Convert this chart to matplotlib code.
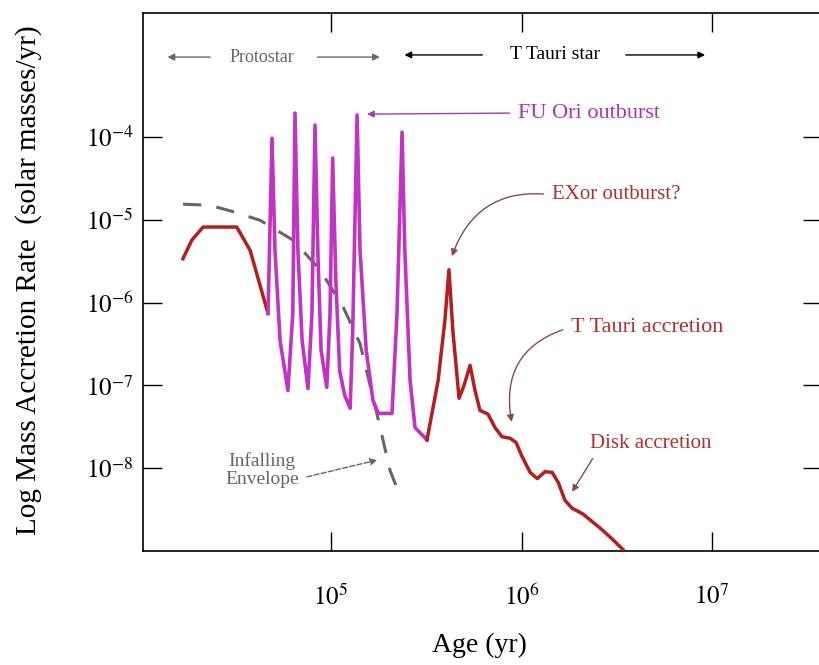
import numpy as np
import matplotlib
matplotlib.use('Agg')
import matplotlib.pyplot as plt
from matplotlib.ticker import NullLocator

plt.rcParams['font.family'] = ['Liberation Serif', 'DejaVu Serif']
plt.rcParams['mathtext.fontset'] = 'stix'

# early protostellar accretion (red, before the outbursts)
early_age = [1.67e4, 1.86e4, 2.13e4, 3.2e4, 3.76e4, 4.67e4]
early_rate = [3.4e-6, 5.7e-6, 8.2e-6, 8.2e-6, 4.3e-6, 7.4e-7]

# FU Ori outbursts (purple)
fu_age = [4.67e4, 4.9e4, 5.08e4, 5.4e4, 5.94e4, 6.3e4, 6.47e4, 6.7e4, 7.05e4,
          7.57e4, 7.94e4, 8.24e4, 8.55e4, 8.87e4, 9.5e4, 9.88e4, 1.02e5,
          1.06e5, 1.11e5, 1.18e5, 1.26e5, 1.30e5, 1.37e5, 1.42e5, 1.53e5,
          1.66e5, 1.77e5, 2.09e5, 2.22e5, 2.36e5, 2.44e5, 2.6e5, 2.76e5, 3.19e5]
fu_rate = [7.4e-7, 9.7e-5, 4.3e-6, 3.5e-7, 8.7e-8, 7.4e-7, 1.95e-4, 4.3e-6, 3.5e-7,
           9.2e-8, 7.4e-7, 1.4e-4, 3.3e-6, 2.65e-7, 9.5e-8, 7.4e-7, 5.6e-5,
           1.87e-6, 1.5e-7, 7.6e-8, 5.3e-8, 4.6e-7, 1.85e-4, 4.3e-6, 2.65e-7,
           6.6e-8, 4.6e-8, 4.6e-8, 7.4e-7, 1.15e-4, 4.3e-6, 1.15e-7, 3.1e-8, 2.2e-8]

# T Tauri / disk accretion (red)
tt_age = [3.19e5, 3.65e5, 3.96e5, 4.16e5, 4.36e5, 4.7e5, 4.99e5, 5.37e5, 5.7e5,
          6.05e5, 6.67e5, 7.26e5, 7.9e5, 8.71e5, 9.36e5, 1.0e6, 1.11e6, 1.21e6,
          1.33e6, 1.45e6, 1.56e6, 1.69e6, 1.84e6, 2.1e6, 2.58e6, 2.99e6, 3.41e6]
tt_rate = [2.2e-8, 1.15e-7, 6.1e-7, 2.5e-6, 4.6e-7, 7.0e-8, 1.0e-7, 1.75e-7, 8.7e-8,
           5.0e-8, 4.5e-8, 3.1e-8, 2.4e-8, 2.3e-8, 2.05e-8, 1.43e-8, 8.9e-9, 7.5e-9,
           9.1e-9, 8.9e-9, 6.7e-9, 4.1e-9, 3.3e-9, 2.8e-9, 1.9e-9, 1.4e-9, 1.04e-9]

# infalling envelope (dashed)
env_age = [1.67e4, 2.32e4, 3.13e4, 4.24e4, 6.32e4, 8.75e4, 1.16e5, 1.42e5,
           1.74e5, 2.04e5, 2.3e5]
env_rate = [1.55e-5, 1.5e-5, 1.24e-5, 9.9e-6, 5.7e-6, 2.5e-6, 8.8e-7, 3.2e-7,
            4.6e-8, 9.4e-9, 4.7e-9]

x_ticks = [1e5, 1e6, 1e7]
x_tick_labels = [r'$10^5$', r'$10^6$', r'$10^7$']
y_ticks = [1e-8, 1e-7, 1e-6, 1e-5, 1e-4]
y_tick_labels = [r'$10^{-8}$', r'$10^{-7}$', r'$10^{-6}$', r'$10^{-5}$', r'$10^{-4}$']

red = '#b41e1e'
purple = '#c233c2'
gray = '#666666'

fig = plt.figure(figsize=(8.19, 6.65), dpi=100)
ax = fig.add_axes([0.1746, 0.1714, 0.829, 0.8091])

ax.plot(env_age, env_rate, color=gray, lw=2.2, dashes=(6, 5), zorder=2)
ax.plot(early_age, early_rate, color=red, lw=2.5, zorder=3)
ax.plot(fu_age, fu_rate, color=purple, lw=2.6, zorder=3)
ax.plot(tt_age, tt_rate, color=red, lw=2.5, zorder=3)

ax.set_xscale('log')
ax.set_yscale('log')
ax.set_xlim(10 ** 4.013, 10 ** 7.577)
ax.set_ylim(1e-9, 10 ** -2.5)

ax.set_xticks(x_ticks)
ax.set_xticklabels(x_tick_labels)
ax.set_yticks(y_ticks)
ax.set_yticklabels(y_tick_labels)
ax.xaxis.set_minor_locator(NullLocator())
ax.yaxis.set_minor_locator(NullLocator())
ax.tick_params(axis='both', which='major', direction='in', length=14, width=1,
               top=True, right=True, labelsize=18)
ax.tick_params(axis='x', pad=24)
ax.tick_params(axis='y', pad=7)
for s in ax.spines.values():
    s.set_linewidth(1.2)

ax.set_ylabel('Log Mass Accretion Rate  (solar masses/yr)', fontsize=21)
ax.yaxis.set_label_coords(-0.149, 0.504)
ax.set_xlabel('Age (yr)', fontsize=20)
ax.xaxis.set_label_coords(0.496, -0.153)

# phase arrows along the top
arr = dict(arrowstyle='-|>', lw=1, mutation_scale=10)
ax.text(0.175, 0.918, 'Protostar', transform=ax.transAxes, ha='center', va='center',
        fontsize=13, color=gray)
ax.annotate('', xy=(0.032, 0.918), xytext=(0.103, 0.918), xycoords='axes fraction',
            arrowprops=dict(arr, color=gray))
ax.annotate('', xy=(0.353, 0.918), xytext=(0.253, 0.918), xycoords='axes fraction',
            arrowprops=dict(arr, color=gray))
ax.text(0.607, 0.922, 'T Tauri star', transform=ax.transAxes, ha='center', va='center',
        fontsize=14, color='black')
ax.annotate('', xy=(0.381, 0.922), xytext=(0.504, 0.922), xycoords='axes fraction',
            arrowprops=dict(arr, color='black'))
ax.annotate('', xy=(0.832, 0.922), xytext=(0.707, 0.922), xycoords='axes fraction',
            arrowprops=dict(arr, color='black'))

# labels with pointers
ax.annotate('FU Ori outburst', xy=(0.330, 0.812), xytext=(0.552, 0.814),
            xycoords='axes fraction', ha='left', va='center', fontsize=16, color='#b030b0',
            arrowprops=dict(arr, color='#a040a8', relpos=(0, 0.5), shrinkA=4, shrinkB=0))
ax.annotate('EXor outburst?', xy=(0.455, 0.548), xytext=(0.602, 0.662),
            xycoords='axes fraction', ha='left', va='center', fontsize=15, color='#b03030',
            arrowprops=dict(arr, color='#8a4a4a', relpos=(0, 0.5), shrinkA=4, shrinkB=0,
                            connectionstyle='arc3,rad=0.4'))
ax.annotate('T Tauri accretion', xy=(0.543, 0.240), xytext=(0.63, 0.416),
            xycoords='axes fraction', ha='left', va='center', fontsize=16, color='#b03030',
            arrowprops=dict(arr, color='#8a4a4a', relpos=(0, 0.5), shrinkA=4, shrinkB=0,
                            connectionstyle='arc3,rad=0.45'))
ax.annotate('Disk accretion', xy=(0.632, 0.110), xytext=(0.658, 0.199),
            xycoords='axes fraction', ha='left', va='center', fontsize=15, color='#b03030',
            arrowprops=dict(arr, color='#8a4a4a', relpos=(0.05, 0), shrinkA=2, shrinkB=0))
ax.annotate('Infalling\nEnvelope', xy=(0.345, 0.169), xytext=(0.175, 0.151),
            xycoords='axes fraction', ha='center', va='center', fontsize=14, color=gray,
            linespacing=1.1,
            arrowprops=dict(arr, color=gray, relpos=(1, 0.25), shrinkA=4, shrinkB=0,
                            linestyle='--'))

fig.savefig('out.png', dpi=100)
